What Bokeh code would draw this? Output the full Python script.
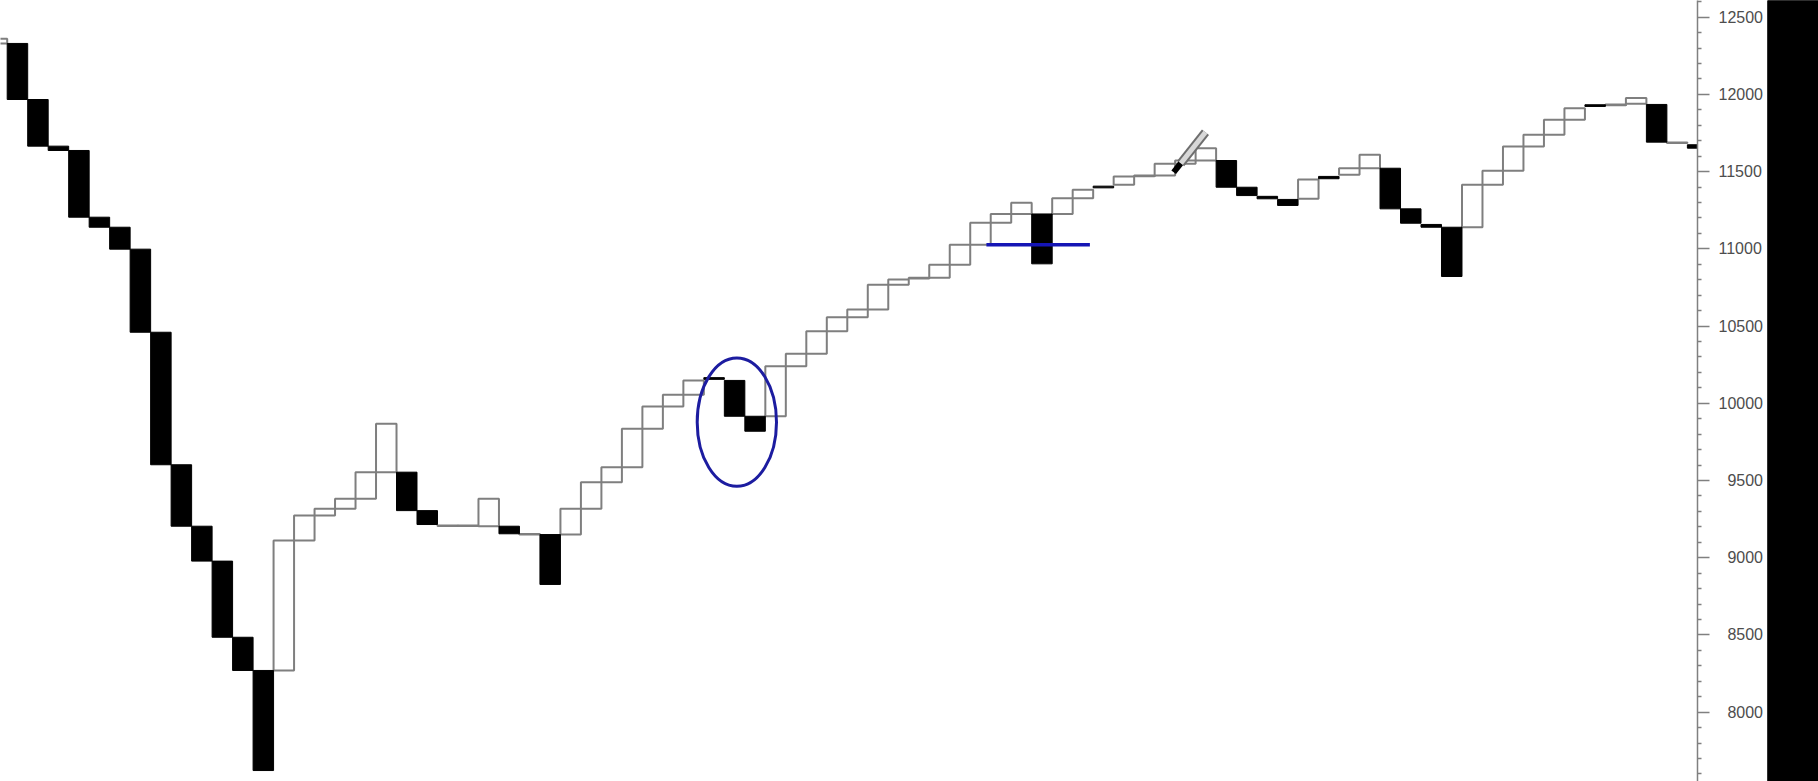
from bokeh.plotting import figure
from bokeh.models import Range1d, FixedTicker
from bokeh.layouts import row
from bokeh.embed import file_html
from bokeh.resources import INLINE

# ---- data: three-line-break columns (open, close) ----
col_index = list(range(84))
opens = [12330, 12330, 11967, 11665, 11637, 11205, 11140, 10998, 10460, 9602,
         9204, 8978, 8485, 8270, 8270, 9112, 9274, 9317, 9382, 9554,
         9554, 9305, 9205, 9205, 9204, 9204, 9150, 9150, 9150, 9317,
         9489, 9586, 9835, 9979, 10055, 10166, 10148, 9916, 9916, 10240,
         10320, 10467, 10557, 10607, 10767, 10808, 10813, 10897, 11026, 11169,
         11226, 11226, 11226, 11328, 11406, 11415, 11470, 11475, 11551, 11572,
         11572, 11399, 11340, 11320, 11324, 11469, 11479, 11522, 11522, 11259,
         11158, 11140, 11140, 11415, 11505, 11663, 11739, 11836, 11933, 11930,
         11939, 11935, 11685, 11674]
closes = [12360, 11967, 11665, 11637, 11205, 11140, 10998, 10460, 9602, 9204,
          8978, 8485, 8270, 7622, 9112, 9274, 9317, 9382, 9554, 9867,
          9305, 9215, 9209, 9209, 9382, 9155, 9154, 8827, 9317, 9489,
          9586, 9835, 9979, 10055, 10148, 10155, 9916, 9819, 10240, 10320,
          10467, 10557, 10607, 10767, 10802, 10813, 10897, 11026, 11169, 11226,
          11298, 10903, 11328, 11382, 11395, 11469, 11475, 11551, 11572, 11652,
          11399, 11345, 11324, 11281, 11449, 11454, 11522, 11609, 11259, 11166,
          11140, 10821, 11415, 11505, 11663, 11739, 11836, 11911, 11922, 11934,
          11976, 11691, 11689, 11652]

tick_values = [8000, 8500, 9000, 9500, 10000, 10500, 11000, 11500, 12000, 12500]
tick_labels = ["8000", "8500", "9000", "9500", "10000", "10500", "11000", "11500", "12000", "12500"]
minor_values = [v for v in range(7600, 12700, 100) if v not in tick_values]

# annotations drawn on the reference picture
ellipse_x, ellipse_y, ellipse_w, ellipse_h = 36.11, 9878, 3.87, 833
mark_x0, mark_x1, mark_y = 48.29, 53.34, 11026
pencil_tip = (57.43, 11496)
pencil_end = (58.98, 11755)

up_l, up_r, up_t, up_b = [], [], [], []
dn_l, dn_r, dn_t, dn_b = [], [], [], []
for i, o, c in zip(col_index, opens, closes):
    if c > o:
        up_l.append(i - 0.5); up_r.append(i + 0.5); up_t.append(c); up_b.append(o)
    else:
        dn_l.append(i - 0.5); dn_r.append(i + 0.5); dn_t.append(o); dn_b.append(c)

p = figure(width=1767, height=781,
           x_range=Range1d(0.173, 82.994), y_range=Range1d(7551, 12608.1),
           output_backend="svg", toolbar_location=None,
           x_axis_location=None, y_axis_location="right",
           min_border_left=0, min_border_top=0, min_border_bottom=0, min_border_right=70,
           background_fill_color="white", border_fill_color="white")
p.grid.visible = False
p.outline_line_color = None

p.quad(left=up_l, right=up_r, top=up_t, bottom=up_b,
       fill_color="white", line_color="#7f7f7f", line_width=2)
p.quad(left=dn_l, right=dn_r, top=dn_t, bottom=dn_b,
       fill_color="black", line_color="black", line_width=1)

# blue annotations
p.ellipse(x=[ellipse_x], y=[ellipse_y], width=[ellipse_w], height=[ellipse_h],
          fill_color=None, line_color="#1c1ca0", line_width=3)
p.segment(x0=[mark_x0], y0=[mark_y], x1=[mark_x1], y1=[mark_y],
          line_color="#1515b5", line_width=3.5)

# pencil cursor
tx, ty = pencil_tip
ex, ey = pencil_end
mx, my = tx + (ex - tx) * 0.22, ty + (ey - ty) * 0.22
p.segment(x0=[mx], y0=[my], x1=[ex], y1=[ey], line_color="#6e6e6e", line_width=9)
p.segment(x0=[mx], y0=[my], x1=[ex], y1=[ey], line_color="#d8d8d8", line_width=5)
p.segment(x0=[tx], y0=[ty], x1=[mx], y1=[my], line_color="black", line_width=6)

ax = p.yaxis[0]
ax.ticker = FixedTicker(ticks=tick_values, minor_ticks=minor_values)
ax.major_label_overrides = {v: ("\u2007" * (5 - len(l))) + l for v, l in zip(tick_values, tick_labels)}
ax.axis_line_color = "#808080"
ax.axis_line_width = 1.5
ax.major_tick_line_color = "#808080"
ax.major_tick_line_width = 1.5
ax.minor_tick_line_color = "#808080"
ax.minor_tick_line_width = 1.5
ax.major_tick_out = 12
ax.major_tick_in = 0
ax.minor_tick_out = 4
ax.minor_tick_in = 0
ax.major_label_standoff = 9
ax.major_label_text_font = "Liberation Sans"
ax.major_label_text_font_size = "16px"
ax.major_label_text_color = "#4d4d4d"

# black strip on the right edge
panel = figure(width=51, height=781, x_range=Range1d(0, 1), y_range=Range1d(0, 1),
               output_backend="svg", toolbar_location=None,
               x_axis_location=None, y_axis_location=None, min_border=0,
               background_fill_color="black", border_fill_color="black")
panel.grid.visible = False
panel.outline_line_color = None
panel.quad(left=[0], right=[1], bottom=[0], top=[1], fill_color="black", line_color="black")

layout = row(p, panel)
open("out.html", "w").write(file_html(layout, INLINE))
